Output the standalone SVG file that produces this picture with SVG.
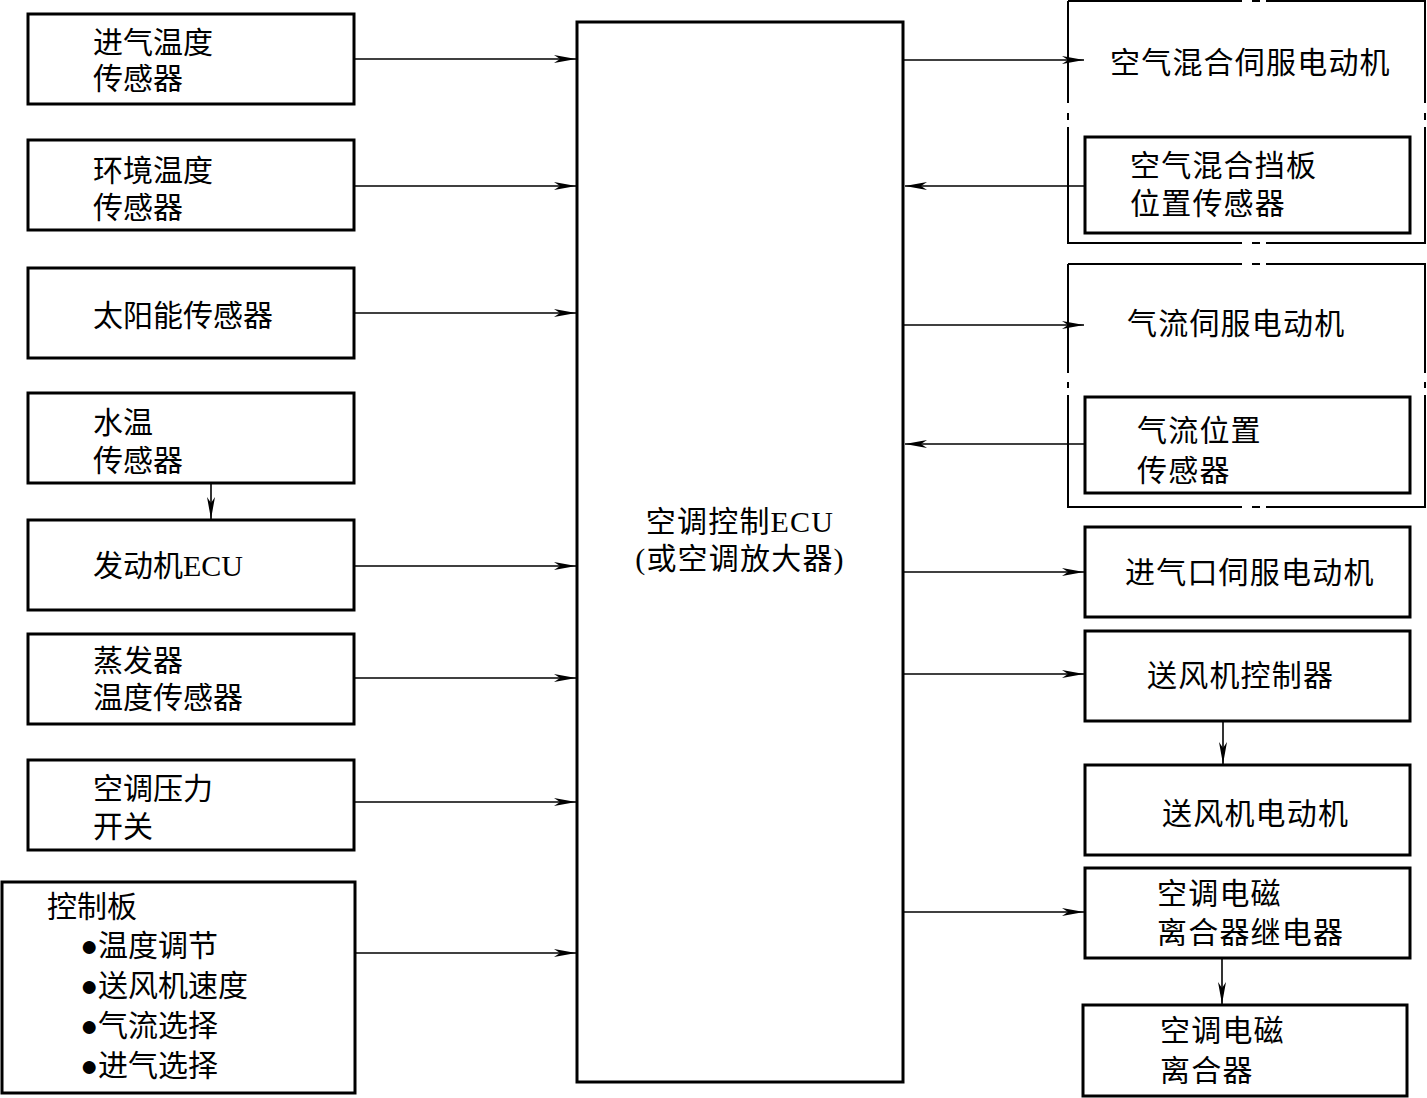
<svg xmlns="http://www.w3.org/2000/svg" width="1427" height="1098" viewBox="0 0 1427 1098">
<style>
.box{fill:none;stroke:#000;stroke-width:3}
.dash{fill:none;stroke:#000;stroke-width:2}
.ln{fill:none;stroke:#000;stroke-width:1.6}
text{font-family:"Liberation Serif","Noto Sans CJK SC",serif;font-size:30px;fill:#000}
.r{letter-spacing:1.2px}
</style>
<defs>
<marker id="ah" markerUnits="userSpaceOnUse" markerWidth="24" markerHeight="10" refX="22" refY="5" orient="auto">
<path d="M0,1 L22,5 L0,9 L6,5 z" fill="#000"/>
</marker>
</defs>
<rect width="1427" height="1098" fill="#fff"/>

<g id="connectors">
<line class="ln" x1="355" y1="59" x2="576" y2="59" marker-end="url(#ah)"/>
<line class="ln" x1="355" y1="186" x2="576" y2="186" marker-end="url(#ah)"/>
<line class="ln" x1="355" y1="313" x2="576" y2="313" marker-end="url(#ah)"/>
<line class="ln" x1="211" y1="483" x2="211" y2="519" marker-end="url(#ah)"/>
<line class="ln" x1="355" y1="566" x2="576" y2="566" marker-end="url(#ah)"/>
<line class="ln" x1="355" y1="678" x2="576" y2="678" marker-end="url(#ah)"/>
<line class="ln" x1="355" y1="802" x2="576" y2="802" marker-end="url(#ah)"/>
<line class="ln" x1="355" y1="953" x2="576" y2="953" marker-end="url(#ah)"/>
<line class="ln" x1="903" y1="60" x2="1084" y2="60" marker-end="url(#ah)"/>
<line class="ln" x1="1085" y1="186" x2="905" y2="186" marker-end="url(#ah)"/>
<line class="ln" x1="903" y1="325" x2="1084" y2="325" marker-end="url(#ah)"/>
<line class="ln" x1="1085" y1="444" x2="905" y2="444" marker-end="url(#ah)"/>
<line class="ln" x1="903" y1="572" x2="1084" y2="572" marker-end="url(#ah)"/>
<line class="ln" x1="903" y1="674" x2="1084" y2="674" marker-end="url(#ah)"/>
<line class="ln" x1="903" y1="912" x2="1084" y2="912" marker-end="url(#ah)"/>
<line class="ln" x1="1223" y1="721" x2="1223" y2="764" marker-end="url(#ah)"/>
<line class="ln" x1="1222" y1="958" x2="1222" y2="1004" marker-end="url(#ah)"/>
</g>

<g id="n-intake-temp"><rect class="box" x="28" y="14" width="326" height="90"/><text x="93" y="53">进气温度</text><text x="93" y="89">传感器</text></g>
<g id="n-ambient-temp"><rect class="box" x="28" y="140" width="326" height="90"/><text x="93" y="181">环境温度</text><text x="93" y="218">传感器</text></g>
<g id="n-solar"><rect class="box" x="28" y="268" width="326" height="90"/><text x="93" y="326">太阳能传感器</text></g>
<g id="n-water-temp"><rect class="box" x="28" y="393" width="326" height="90"/><text x="93" y="433">水温</text><text x="93" y="471">传感器</text></g>
<g id="n-engine-ecu"><rect class="box" x="28" y="520" width="326" height="90"/><text x="93" y="576">发动机ECU</text></g>
<g id="n-evap"><rect class="box" x="28" y="634" width="326" height="90"/><text x="93" y="671">蒸发器</text><text x="93" y="708">温度传感器</text></g>
<g id="n-pressure"><rect class="box" x="28" y="760" width="326" height="90"/><text x="93" y="799">空调压力</text><text x="93" y="837">开关</text></g>
<g id="n-panel"><rect class="box" x="2" y="882" width="353" height="211"/>
<text x="47" y="917">控制板</text>
<text x="80" y="956">●温度调节</text>
<text x="80" y="996">●送风机速度</text>
<text x="80" y="1036">●气流选择</text>
<text x="80" y="1076">●进气选择</text></g>

<g id="n-ecu"><rect class="box" x="577" y="22" width="326" height="1060"/>
<text x="740" y="532" text-anchor="middle" class="r">空调控制ECU</text>
<text x="740" y="569" text-anchor="middle" class="r">(或空调放大器)</text></g>

<g id="g-airmix">
<path class="dash" d="M1068,1 H1242 M1252,1 H1260 M1266,1 H1425 V103 M1425,113 V120 M1425,127 V243 H1266 M1260,243 H1252 M1242,243 H1068 V127 M1068,120 V113 M1068,103 V1"/>
<text x="1110" y="73" class="r">空气混合伺服电动机</text>
<g id="n-airmix-sensor"><rect class="box" x="1085" y="137" width="325" height="96"/><text x="1130" y="176" class="r">空气混合挡板</text><text x="1130" y="214" class="r">位置传感器</text></g>
</g>

<g id="g-airflow">
<path class="dash" d="M1068,264 H1242 M1252,264 H1260 M1266,264 H1425 V373 M1425,382 V388 M1425,395 V507 H1266 M1260,507 H1252 M1242,507 H1068 V395 M1068,388 V382 M1068,373 V264"/>
<text x="1127" y="334" class="r">气流伺服电动机</text>
<g id="n-airflow-sensor"><rect class="box" x="1085" y="397" width="325" height="96"/><text x="1137" y="441" class="r">气流位置</text><text x="1137" y="481" class="r">传感器</text></g>
</g>

<g id="n-intake-servo"><rect class="box" x="1085" y="527" width="325" height="90"/><text x="1125" y="583" class="r">进气口伺服电动机</text></g>
<g id="n-blower-ctrl"><rect class="box" x="1085" y="631" width="325" height="90"/><text x="1147" y="686" class="r">送风机控制器</text></g>
<g id="n-blower-motor"><rect class="box" x="1085" y="765" width="325" height="90"/><text x="1162" y="824" class="r">送风机电动机</text></g>
<g id="n-clutch-relay"><rect class="box" x="1085" y="868" width="325" height="90"/><text x="1157" y="904" class="r">空调电磁</text><text x="1157" y="943" class="r">离合器继电器</text></g>
<g id="n-clutch"><rect class="box" x="1083" y="1005" width="324" height="91"/><text x="1160" y="1041" class="r">空调电磁</text><text x="1160" y="1081" class="r">离合器</text></g>
</svg>
